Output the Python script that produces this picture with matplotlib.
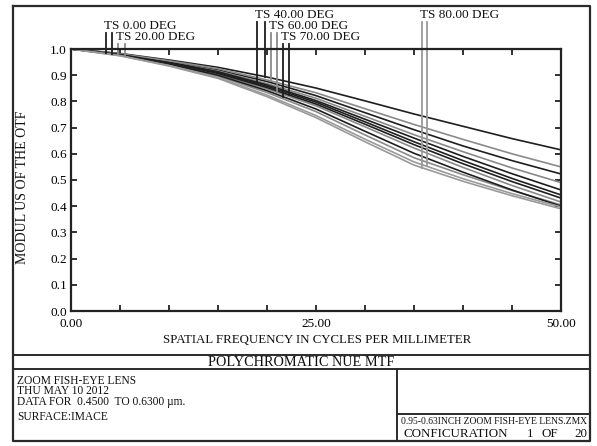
import numpy as np
import matplotlib
matplotlib.use("Agg")
import matplotlib.pyplot as plt
from matplotlib.ticker import MultipleLocator, FixedLocator

# ---------------- data ----------------
freq = [0, 5, 10, 15, 20, 25, 30, 35, 40, 45, 50]

curve_A = [1.0, 0.983, 0.958, 0.930, 0.893, 0.851, 0.802, 0.752, 0.705, 0.658, 0.615]  # 40 deg S
curve_B = [1.0, 0.982, 0.955, 0.925, 0.882, 0.833, 0.772, 0.712, 0.655, 0.600, 0.550]  # 60 deg S
curve_C = [1.0, 0.981, 0.953, 0.920, 0.876, 0.822, 0.757, 0.692, 0.630, 0.574, 0.523]  # 0 deg T
curve_D = [1.0, 0.980, 0.951, 0.916, 0.868, 0.812, 0.743, 0.673, 0.608, 0.546, 0.490]  # 20 deg T
curve_E = [1.0, 0.980, 0.950, 0.913, 0.863, 0.803, 0.732, 0.660, 0.590, 0.524, 0.462]  # 40 deg T
curve_F = [1.0, 0.979, 0.948, 0.910, 0.858, 0.797, 0.722, 0.646, 0.574, 0.506, 0.443]  # 0 deg S
curve_G = [1.0, 0.979, 0.947, 0.907, 0.853, 0.790, 0.713, 0.635, 0.562, 0.494, 0.431]  # 70 deg S
curve_H = [1.0, 0.978, 0.945, 0.904, 0.848, 0.783, 0.703, 0.622, 0.548, 0.479, 0.416]  # 60 deg T
curve_I = [1.0, 0.977, 0.943, 0.900, 0.841, 0.771, 0.686, 0.602, 0.530, 0.462, 0.400]  # 70 deg T
curve_J = [1.0, 0.976, 0.941, 0.896, 0.834, 0.761, 0.672, 0.585, 0.520, 0.460, 0.405]  # 20 deg S
curve_K = [1.0, 0.975, 0.937, 0.891, 0.824, 0.746, 0.656, 0.569, 0.505, 0.448, 0.397]  # 80 deg S
curve_L = [1.0, 0.974, 0.935, 0.888, 0.818, 0.738, 0.646, 0.557, 0.495, 0.440, 0.390]  # 80 deg T

field_labels = ["TS 0.00 DEG", "TS 20.00 DEG", "TS 40.00 DEG",
                "TS 60.00 DEG", "TS 70.00 DEG", "TS 80.00 DEG"]
field_curves = [(curve_C, curve_F), (curve_D, curve_J), (curve_E, curve_A),
                (curve_B, curve_H), (curve_I, curve_G), (curve_L, curve_K)]
marker_freqs = [(3.57, 4.18), (4.8, 5.5), (18.98, 19.8),
                (20.4, 21.0), (21.6, 22.2), (35.8, 36.3)]

y_ticks = [0.0, 0.1, 0.2, 0.3, 0.4, 0.5, 0.6, 0.7, 0.8, 0.9, 1.0]
x_major = [0, 25, 50]
x_tick_labels = ["0.00", "25.00", "50.00"]

# ---------------- style ----------------
field_colors = ["#1e1e1e", "#8a8a8a", "#1e1e1e", "#8a8a8a", "#1e1e1e", "#9a9a9a"]
label_rows = [1, 2, 0, 1, 2, 0]           # text row of each label
row_text_y = [15, 26, 37.5]               # pixel centers of label rows
row_line_top = [1.103, 1.061, 1.019]      # data y of marker tops

W, H = 597, 446
plt.rcParams['font.family'] = ['Liberation Serif', 'DejaVu Serif']
fig = plt.figure(figsize=(W / 100, H / 100), dpi=100)

ax = fig.add_axes([71 / W, 1 - 311 / H, 490 / W, 262 / H])
ax.set_xlim(0, 50)
ax.set_ylim(0, 1.0)
for s in ax.spines.values():
    s.set_linewidth(1.6)
    s.set_color("#222222")

for (ct, cs), col in zip(field_curves, field_colors):
    ax.plot(freq, ct, color=col, lw=1.2, solid_joinstyle='round', clip_on=False)
    ax.plot(freq, cs, color=col, lw=1.2, solid_joinstyle='round', clip_on=False)

for (ct, cs), mf, col, row, lab in zip(field_curves, marker_freqs, field_colors,
                                        label_rows, field_labels):
    for m, c in zip(mf, (ct, cs)):
        ybot = np.interp(m, freq, c)
        ax.plot([m, m], [ybot, row_line_top[row]], color=col, lw=1.3, clip_on=False)

ax.set_yticks(y_ticks)
ax.set_yticklabels([f"{v:.1f}" for v in y_ticks])
ax.xaxis.set_major_locator(FixedLocator(x_major))
ax.set_xticklabels(x_tick_labels)
ax.xaxis.set_minor_locator(MultipleLocator(5))
ax.tick_params(axis='both', which='both', direction='in', length=4, width=1.3,
               top=True, right=True, color="#222222")
ax.tick_params(axis='y', labelsize=9.5, pad=3)
ax.tick_params(axis='x', labelsize=9.5, pad=5)

# ---------------- overlay (frame, texts) ----------------
ov = fig.add_axes([0, 0, 1, 1], zorder=5)
ov.set_xlim(0, W)
ov.set_ylim(H, 0)
ov.axis('off')
ov.patch.set_visible(False)

lc = "#2a2a2a"
ov.plot([12.5, 589.5, 589.5, 12.5, 12.5], [6, 6, 441, 441, 6], color=lc, lw=1.6)
ov.plot([12.5, 589.5], [355, 355], color=lc, lw=1.4)
ov.plot([12.5, 589.5], [369, 369], color=lc, lw=1.4)
ov.plot([397, 397], [369, 441], color=lc, lw=1.4)
ov.plot([397, 589.5], [414, 414], color=lc, lw=1.4)

# field labels
for mf, row, lab in zip(marker_freqs, label_rows, field_labels):
    px = 71 + mf[0] * 9.8 - 2
    ov.text(px, row_text_y[row], lab, fontsize=9.5, ha='left', va='center', color="#111111")

ov.text(23, 187, "MODUL US OF THE OTF", rotation=90, fontsize=10,
        ha='center', va='center', color="#111111")
ov.text(317, 340, "SPATIAL FREQUENCY IN CYCLES PER MILLIMETER", fontsize=9.3,
        ha='center', va='center', color="#111111")
ov.text(301, 362.5, "POLYCHROMATIC NUE MTF", fontsize=10.3,
        ha='center', va='center', color="#111111")

info_lines = ["ZOOM FISH-EYE LENS", "THU MAY 10 2012",
              "DATA FOR  0.4500  TO 0.6300 \u00b5m.", "SURFACE:IMACE"]
info_y = [380.5, 391, 402, 416.5]
for t, y in zip(info_lines, info_y):
    ov.text(17, y, t, fontsize=8.3, ha='left', va='center', color="#111111")

ov.text(494, 422, "0.95-0.63INCH ZOOM FISH-EYE LENS.ZMX", fontsize=6.9,
        ha='center', va='center', color="#111111")
ov.text(403, 434, "CONFICURATION", fontsize=9.4, ha='left', va='center', color="#111111")
ov.text(530, 434, "1", fontsize=9.4, ha='center', va='center', color="#111111")
ov.text(550, 434, "OF", fontsize=9.4, ha='center', va='center', color="#111111")
ov.text(587, 434, "20", fontsize=9.4, ha='right', va='center', color="#111111")

fig.savefig("out.png", dpi=100, facecolor="white")
